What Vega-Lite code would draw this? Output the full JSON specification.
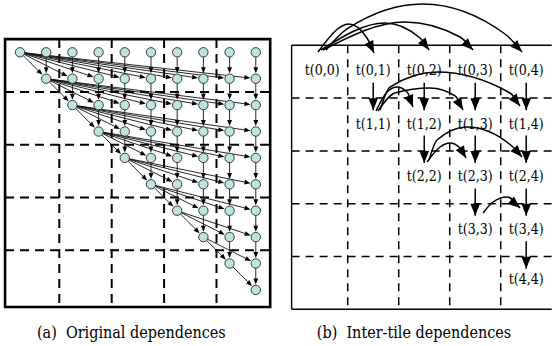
{
"$schema":"https://vega.github.io/schema/vega-lite/v6.json",
"width":553,"height":346,"padding":0,
"autosize":{"type":"fit","contains":"padding"},
"background":"white",
"config":{"view":{"stroke":null},"axis":{"disable":true},"legend":{"disable":true}},
"datasets":{
"nodes":[
{"r":0,"c":0},{"r":0,"c":1},{"r":0,"c":2},{"r":0,"c":3},{"r":0,"c":4},{"r":0,"c":5},{"r":0,"c":6},{"r":0,"c":7},{"r":0,"c":8},{"r":0,"c":9},
{"r":1,"c":1},{"r":1,"c":2},{"r":1,"c":3},{"r":1,"c":4},{"r":1,"c":5},{"r":1,"c":6},{"r":1,"c":7},{"r":1,"c":8},{"r":1,"c":9},
{"r":2,"c":2},{"r":2,"c":3},{"r":2,"c":4},{"r":2,"c":5},{"r":2,"c":6},{"r":2,"c":7},{"r":2,"c":8},{"r":2,"c":9},
{"r":3,"c":3},{"r":3,"c":4},{"r":3,"c":5},{"r":3,"c":6},{"r":3,"c":7},{"r":3,"c":8},{"r":3,"c":9},
{"r":4,"c":4},{"r":4,"c":5},{"r":4,"c":6},{"r":4,"c":7},{"r":4,"c":8},{"r":4,"c":9},
{"r":5,"c":5},{"r":5,"c":6},{"r":5,"c":7},{"r":5,"c":8},{"r":5,"c":9},
{"r":6,"c":6},{"r":6,"c":7},{"r":6,"c":8},{"r":6,"c":9},
{"r":7,"c":7},{"r":7,"c":8},{"r":7,"c":9},
{"r":8,"c":8},{"r":8,"c":9},
{"r":9,"c":9}],
"edgesA":[
{"r0":0,"c0":1,"r1":1,"c1":1},{"r0":0,"c0":2,"r1":1,"c1":2},{"r0":0,"c0":3,"r1":1,"c1":3},{"r0":0,"c0":4,"r1":1,"c1":4},{"r0":0,"c0":5,"r1":1,"c1":5},{"r0":0,"c0":6,"r1":1,"c1":6},{"r0":0,"c0":7,"r1":1,"c1":7},{"r0":0,"c0":8,"r1":1,"c1":8},{"r0":0,"c0":9,"r1":1,"c1":9},
{"r0":1,"c0":2,"r1":2,"c1":2},{"r0":1,"c0":3,"r1":2,"c1":3},{"r0":1,"c0":4,"r1":2,"c1":4},{"r0":1,"c0":5,"r1":2,"c1":5},{"r0":1,"c0":6,"r1":2,"c1":6},{"r0":1,"c0":7,"r1":2,"c1":7},{"r0":1,"c0":8,"r1":2,"c1":8},{"r0":1,"c0":9,"r1":2,"c1":9},
{"r0":2,"c0":3,"r1":3,"c1":3},{"r0":2,"c0":4,"r1":3,"c1":4},{"r0":2,"c0":5,"r1":3,"c1":5},{"r0":2,"c0":6,"r1":3,"c1":6},{"r0":2,"c0":7,"r1":3,"c1":7},{"r0":2,"c0":8,"r1":3,"c1":8},{"r0":2,"c0":9,"r1":3,"c1":9},
{"r0":3,"c0":4,"r1":4,"c1":4},{"r0":3,"c0":5,"r1":4,"c1":5},{"r0":3,"c0":6,"r1":4,"c1":6},{"r0":3,"c0":7,"r1":4,"c1":7},{"r0":3,"c0":8,"r1":4,"c1":8},{"r0":3,"c0":9,"r1":4,"c1":9},
{"r0":4,"c0":5,"r1":5,"c1":5},{"r0":4,"c0":6,"r1":5,"c1":6},{"r0":4,"c0":7,"r1":5,"c1":7},{"r0":4,"c0":8,"r1":5,"c1":8},{"r0":4,"c0":9,"r1":5,"c1":9},
{"r0":5,"c0":6,"r1":6,"c1":6},{"r0":5,"c0":7,"r1":6,"c1":7},{"r0":5,"c0":8,"r1":6,"c1":8},{"r0":5,"c0":9,"r1":6,"c1":9},
{"r0":6,"c0":7,"r1":7,"c1":7},{"r0":6,"c0":8,"r1":7,"c1":8},{"r0":6,"c0":9,"r1":7,"c1":9},
{"r0":7,"c0":8,"r1":8,"c1":8},{"r0":7,"c0":9,"r1":8,"c1":9},
{"r0":8,"c0":9,"r1":9,"c1":9},
{"r0":0,"c0":0,"r1":1,"c1":1},{"r0":0,"c0":0,"r1":1,"c1":2},{"r0":0,"c0":0,"r1":1,"c1":3},{"r0":0,"c0":0,"r1":1,"c1":4},{"r0":0,"c0":0,"r1":1,"c1":5},{"r0":0,"c0":0,"r1":1,"c1":6},{"r0":0,"c0":0,"r1":1,"c1":7},{"r0":0,"c0":0,"r1":1,"c1":8},{"r0":0,"c0":0,"r1":1,"c1":9},
{"r0":1,"c0":1,"r1":2,"c1":2},{"r0":1,"c0":1,"r1":2,"c1":3},{"r0":1,"c0":1,"r1":2,"c1":4},{"r0":1,"c0":1,"r1":2,"c1":5},{"r0":1,"c0":1,"r1":2,"c1":6},{"r0":1,"c0":1,"r1":2,"c1":7},{"r0":1,"c0":1,"r1":2,"c1":8},{"r0":1,"c0":1,"r1":2,"c1":9},
{"r0":2,"c0":2,"r1":3,"c1":3},{"r0":2,"c0":2,"r1":3,"c1":4},{"r0":2,"c0":2,"r1":3,"c1":5},{"r0":2,"c0":2,"r1":3,"c1":6},{"r0":2,"c0":2,"r1":3,"c1":7},{"r0":2,"c0":2,"r1":3,"c1":8},{"r0":2,"c0":2,"r1":3,"c1":9},
{"r0":3,"c0":3,"r1":4,"c1":4},{"r0":3,"c0":3,"r1":4,"c1":5},{"r0":3,"c0":3,"r1":4,"c1":6},{"r0":3,"c0":3,"r1":4,"c1":7},{"r0":3,"c0":3,"r1":4,"c1":8},{"r0":3,"c0":3,"r1":4,"c1":9},
{"r0":4,"c0":4,"r1":5,"c1":5},{"r0":4,"c0":4,"r1":5,"c1":6},{"r0":4,"c0":4,"r1":5,"c1":7},{"r0":4,"c0":4,"r1":5,"c1":8},{"r0":4,"c0":4,"r1":5,"c1":9},
{"r0":5,"c0":5,"r1":6,"c1":6},{"r0":5,"c0":5,"r1":6,"c1":7},{"r0":5,"c0":5,"r1":6,"c1":8},{"r0":5,"c0":5,"r1":6,"c1":9},
{"r0":6,"c0":6,"r1":7,"c1":7},{"r0":6,"c0":6,"r1":7,"c1":8},{"r0":6,"c0":6,"r1":7,"c1":9},
{"r0":7,"c0":7,"r1":8,"c1":8},{"r0":7,"c0":7,"r1":8,"c1":9},
{"r0":8,"c0":8,"r1":9,"c1":9}],
"arcs":[
{"a":"01","k":0,"u":0.418,"v":0.127},{"a":"01","k":1,"u":1.025,"v":-0.403},{"a":"01","k":2,"u":1.378,"v":-0.138},{"a":"01","k":3,"u":1.516,"v":0.146},
{"a":"02","k":0,"u":0.476,"v":0.089},{"a":"02","k":1,"u":1.731,"v":-0.422},{"a":"02","k":2,"u":2.418,"v":-0.138},{"a":"02","k":3,"u":2.594,"v":0.089},
{"a":"03","k":0,"u":0.516,"v":0.089},{"a":"03","k":1,"u":2.124,"v":-0.441},{"a":"03","k":2,"u":3.202,"v":-0.157},{"a":"03","k":3,"u":3.457,"v":0.089},
{"a":"04","k":0,"u":0.575,"v":0.089},{"a":"04","k":1,"u":0.986,"v":-0.309},{"a":"04","k":2,"u":2.476,"v":-0.782},{"a":"04","k":3,"u":4.084,"v":-0.214},{"a":"04","k":4,"u":4.418,"v":0.127},
{"a":"12","k":0,"u":1.555,"v":1.244},{"a":"12","k":1,"u":1.771,"v":0.884},{"a":"12","k":2,"u":1.967,"v":0.790},{"a":"12","k":3,"u":2.163,"v":0.884},{"a":"12","k":4,"u":2.280,"v":1.169},
{"a":"13","k":0,"u":1.594,"v":1.244},{"a":"13","k":1,"u":1.927,"v":0.903},{"a":"13","k":2,"u":2.614,"v":0.809},{"a":"13","k":3,"u":3.104,"v":0.960},{"a":"13","k":4,"u":3.261,"v":1.225},
{"a":"14","k":0,"u":1.633,"v":1.225},{"a":"14","k":1,"u":1.829,"v":0.790},{"a":"14","k":2,"u":2.751,"v":0.506},{"a":"14","k":3,"u":4.182,"v":0.903},{"a":"14","k":4,"u":4.378,"v":1.150},
{"a":"23","k":0,"u":2.555,"v":2.210},{"a":"23","k":1,"u":2.810,"v":1.926},{"a":"23","k":2,"u":3.006,"v":1.850},{"a":"23","k":3,"u":3.202,"v":1.945},{"a":"23","k":4,"u":3.320,"v":2.134},
{"a":"24","k":0,"u":2.594,"v":2.172},{"a":"24","k":1,"u":2.751,"v":1.794},{"a":"24","k":2,"u":3.339,"v":1.547},{"a":"24","k":3,"u":4.241,"v":1.926},{"a":"24","k":4,"u":4.418,"v":2.116},
{"a":"34","k":0,"u":3.653,"v":3.176},{"a":"34","k":1,"u":3.849,"v":2.968},{"a":"34","k":2,"u":4.124,"v":2.873},{"a":"34","k":3,"u":4.378,"v":3.081}],
"vArrows":[
{"u":1.5,"v1":0.71,"v2":1.23},{"u":2.5,"v1":0.71,"v2":1.23},{"u":3.5,"v1":0.71,"v2":1.23},{"u":4.5,"v1":0.71,"v2":1.23},
{"u":2.5,"v1":1.71,"v2":2.23},{"u":3.5,"v1":1.71,"v2":2.23},{"u":4.5,"v1":1.71,"v2":2.23},
{"u":3.5,"v1":2.71,"v2":3.23},{"u":4.5,"v1":2.71,"v2":3.23},
{"u":4.5,"v1":3.71,"v2":4.23}],
"labels":[
{"t":"t(0,0)","u":0.5,"v":0.48},{"t":"t(0,1)","u":1.5,"v":0.48},{"t":"t(0,2)","u":2.5,"v":0.48},{"t":"t(0,3)","u":3.5,"v":0.48},{"t":"t(0,4)","u":4.5,"v":0.48},
{"t":"t(1,1)","u":1.5,"v":1.5},{"t":"t(1,2)","u":2.5,"v":1.5},{"t":"t(1,3)","u":3.5,"v":1.5},{"t":"t(1,4)","u":4.5,"v":1.5},
{"t":"t(2,2)","u":2.5,"v":2.5},{"t":"t(2,3)","u":3.5,"v":2.5},{"t":"t(2,4)","u":4.5,"v":2.5},
{"t":"t(3,3)","u":3.5,"v":3.5},{"t":"t(3,4)","u":4.5,"v":3.5},
{"t":"t(4,4)","u":4.5,"v":4.45}]
},
"layer":[
{
"layer":[
{"data":{"values":[{"p":1.5},{"p":3.5},{"p":5.5},{"p":7.5}]},
 "layer":[
  {"mark":{"type":"rule","strokeDash":[9,6],"strokeWidth":2,"color":"black"},
   "encoding":{"x":{"field":"p","type":"quantitative","scale":{"domain":[-0.763,20.344],"nice":false,"zero":false}},
               "y":{"datum":-0.5,"type":"quantitative","scale":{"domain":[-1.981,11.125],"nice":false,"zero":false,"reverse":true}},
               "y2":{"datum":9.65}}},
  {"mark":{"type":"rule","strokeDash":[9,6],"strokeWidth":2,"color":"black"},
   "encoding":{"y":{"field":"p","type":"quantitative","scale":{"domain":[-1.981,11.125],"nice":false,"zero":false,"reverse":true}},
               "x":{"datum":-0.57,"type":"quantitative","scale":{"domain":[-0.763,20.344],"nice":false,"zero":false}},
               "x2":{"datum":9.55}}}
 ]},
{"data":{"values":[{}]},
 "mark":{"type":"rect","filled":false,"color":"black","strokeWidth":2.6},
 "encoding":{"x":{"datum":-0.57,"type":"quantitative","scale":{"domain":[-0.763,20.344],"nice":false,"zero":false}},"x2":{"datum":9.55},
             "y":{"datum":-0.5,"type":"quantitative","scale":{"domain":[-1.981,11.125],"nice":false,"zero":false,"reverse":true}},"y2":{"datum":9.65}}},
{"data":{"name":"edgesA"},
 "transform":[
  {"calculate":"(datum.c1-datum.c0)*26.2","as":"DX"},
  {"calculate":"(datum.r1-datum.r0)*26.4","as":"DY"},
  {"calculate":"sqrt(datum.DX*datum.DX+datum.DY*datum.DY)","as":"L"},
  {"calculate":"datum.c1-datum.DX/datum.L*5.4/26.2","as":"tc"},
  {"calculate":"datum.r1-datum.DY/datum.L*5.4/26.4","as":"tr"},
  {"calculate":"datum.c1-datum.DX/datum.L*9/26.2","as":"ec"},
  {"calculate":"datum.r1-datum.DY/datum.L*9/26.4","as":"er"},
  {"calculate":"(atan2(-datum.DX,datum.DY)*180/PI+360)%360","as":"ang"}],
 "layer":[
  {"mark":{"type":"rule","strokeWidth":0.9,"color":"#111111"},
   "encoding":{"x":{"field":"c0","type":"quantitative","scale":{"domain":[-0.763,20.344],"nice":false,"zero":false}},
               "y":{"field":"r0","type":"quantitative","scale":{"domain":[-1.981,11.125],"nice":false,"zero":false,"reverse":true}},
               "x2":{"field":"ec"},"y2":{"field":"er"}}},
  {"mark":{"type":"point","shape":"M0,0L-0.8,-2L0.8,-2Z","filled":true,"color":"black","opacity":1,"size":36},
   "encoding":{"x":{"field":"tc","type":"quantitative","scale":{"domain":[-0.763,20.344],"nice":false,"zero":false}},
               "y":{"field":"tr","type":"quantitative","scale":{"domain":[-1.981,11.125],"nice":false,"zero":false,"reverse":true}},
               "angle":{"field":"ang","type":"quantitative","scale":null}}}
 ]},
{"data":{"name":"nodes"},
 "mark":{"type":"point","shape":"circle","filled":true,"fill":"#bde3e3","stroke":"#3a3a3a","strokeWidth":1,"opacity":1,"size":88},
 "encoding":{"x":{"field":"c","type":"quantitative","scale":{"domain":[-0.763,20.344],"nice":false,"zero":false}},
             "y":{"field":"r","type":"quantitative","scale":{"domain":[-1.981,11.125],"nice":false,"zero":false,"reverse":true}}}},
{"data":{"values":[{"t":"(a)\u00a0\u00a0Original dependences"}]},
 "mark":{"type":"text","font":"DejaVu Serif Condensed, DejaVu Serif, serif","fontSize":16,"align":"center","baseline":"middle","color":"black"},
 "encoding":{"text":{"field":"t"},
             "x":{"datum":4.25,"type":"quantitative","scale":{"domain":[-0.763,20.344],"nice":false,"zero":false}},
             "y":{"datum":10.63,"type":"quantitative","scale":{"domain":[-1.981,11.125],"nice":false,"zero":false,"reverse":true}}}}
]
},
{
"layer":[
{"data":{"values":[{"p":1},{"p":2},{"p":3},{"p":4}]},
 "layer":[
  {"mark":{"type":"rule","strokeDash":[8,6],"strokeWidth":1.5,"color":"black"},
   "encoding":{"x":{"field":"p","type":"quantitative","scale":{"domain":[-5.818,5.025],"nice":false,"zero":false}},
               "y":{"datum":0,"type":"quantitative","scale":{"domain":[-0.858,5.695],"nice":false,"zero":false,"reverse":true}},
               "y2":{"datum":5}}},
  {"mark":{"type":"rule","strokeDash":[8,6],"strokeWidth":1.5,"color":"black"},
   "encoding":{"y":{"field":"p","type":"quantitative","scale":{"domain":[-0.858,5.695],"nice":false,"zero":false,"reverse":true}},
               "x":{"datum":-0.1,"type":"quantitative","scale":{"domain":[-5.818,5.025],"nice":false,"zero":false}},
               "x2":{"datum":5.0}}}
 ]},
{"data":{"values":[{}]},
 "layer":[
  {"mark":{"type":"rule","strokeWidth":1.4,"color":"black"},
   "encoding":{"x":{"datum":-0.1,"type":"quantitative","scale":{"domain":[-5.818,5.025],"nice":false,"zero":false}},
               "y":{"datum":0,"type":"quantitative","scale":{"domain":[-0.858,5.695],"nice":false,"zero":false,"reverse":true}},"y2":{"datum":5}}},
  {"mark":{"type":"rule","strokeWidth":1.4,"color":"black"},
   "encoding":{"x":{"datum":-0.1,"type":"quantitative","scale":{"domain":[-5.818,5.025],"nice":false,"zero":false}},"x2":{"datum":5.0},
               "y":{"datum":0,"type":"quantitative","scale":{"domain":[-0.858,5.695],"nice":false,"zero":false,"reverse":true}}}},
  {"mark":{"type":"rule","strokeWidth":1.4,"color":"black"},
   "encoding":{"x":{"datum":-0.1,"type":"quantitative","scale":{"domain":[-5.818,5.025],"nice":false,"zero":false}},"x2":{"datum":5.0},
               "y":{"datum":5,"type":"quantitative","scale":{"domain":[-0.858,5.695],"nice":false,"zero":false,"reverse":true}}}}
 ]},
{"data":{"name":"vArrows"},
 "layer":[
  {"mark":{"type":"rule","strokeWidth":1.5,"color":"black"},
   "encoding":{"x":{"field":"u","type":"quantitative","scale":{"domain":[-5.818,5.025],"nice":false,"zero":false}},
               "y":{"field":"v1","type":"quantitative","scale":{"domain":[-0.858,5.695],"nice":false,"zero":false,"reverse":true}},
               "y2":{"field":"v2"}}},
  {"mark":{"type":"point","shape":"M0,0L-0.8,-2L0.8,-2Z","filled":true,"color":"black","opacity":1,"size":144},
   "encoding":{"x":{"field":"u","type":"quantitative","scale":{"domain":[-5.818,5.025],"nice":false,"zero":false}},
               "y":{"field":"v2","type":"quantitative","scale":{"domain":[-0.858,5.695],"nice":false,"zero":false,"reverse":true}}}}
 ]},
{"data":{"name":"arcs"},
 "mark":{"type":"line","interpolate":"monotone","strokeWidth":1.5,"color":"black"},
 "encoding":{"x":{"field":"u","type":"quantitative","scale":{"domain":[-5.818,5.025],"nice":false,"zero":false}},
             "y":{"field":"v","type":"quantitative","scale":{"domain":[-0.858,5.695],"nice":false,"zero":false,"reverse":true}},
             "detail":{"field":"a","type":"nominal"},
             "order":{"field":"k","type":"quantitative"}}},
{"data":{"name":"arcs"},
 "transform":[
  {"window":[{"op":"lag","field":"u","as":"pu"},{"op":"lag","field":"v","as":"pv"}],"sort":[{"field":"k"}],"groupby":["a"]},
  {"joinaggregate":[{"op":"max","field":"k","as":"mk"}],"groupby":["a"]},
  {"filter":"datum.k == datum.mk"},
  {"calculate":"(datum.u-datum.pu)*51","as":"DX"},
  {"calculate":"(datum.v-datum.pv)*52.8","as":"DY"},
  {"calculate":"(atan2(-datum.DX,datum.DY)*180/PI+360)%360","as":"ang"}],
 "mark":{"type":"point","shape":"M0,0L-0.8,-2L0.8,-2Z","filled":true,"color":"black","opacity":1,"size":144},
 "encoding":{"x":{"field":"u","type":"quantitative","scale":{"domain":[-5.818,5.025],"nice":false,"zero":false}},
             "y":{"field":"v","type":"quantitative","scale":{"domain":[-0.858,5.695],"nice":false,"zero":false,"reverse":true}},
             "angle":{"field":"ang","type":"quantitative","scale":null}}},
{"data":{"name":"labels"},
 "mark":{"type":"text","font":"DejaVu Serif Condensed, DejaVu Serif, serif","fontSize":14,"align":"center","baseline":"middle","color":"black"},
 "encoding":{"text":{"field":"t"},
             "x":{"field":"u","type":"quantitative","scale":{"domain":[-5.818,5.025],"nice":false,"zero":false}},
             "y":{"field":"v","type":"quantitative","scale":{"domain":[-0.858,5.695],"nice":false,"zero":false,"reverse":true}}}},
{"data":{"values":[{"t":"(b)\u00a0\u00a0Inter-tile dependences"}]},
 "mark":{"type":"text","font":"DejaVu Serif Condensed, DejaVu Serif, serif","fontSize":16,"align":"center","baseline":"middle","color":"black"},
 "encoding":{"text":{"field":"t"},
             "x":{"datum":2.3,"type":"quantitative","scale":{"domain":[-5.818,5.025],"nice":false,"zero":false}},
             "y":{"datum":5.45,"type":"quantitative","scale":{"domain":[-0.858,5.695],"nice":false,"zero":false,"reverse":true}}}}
]
}
],
"resolve":{"scale":{"x":"independent","y":"independent"}}
}
